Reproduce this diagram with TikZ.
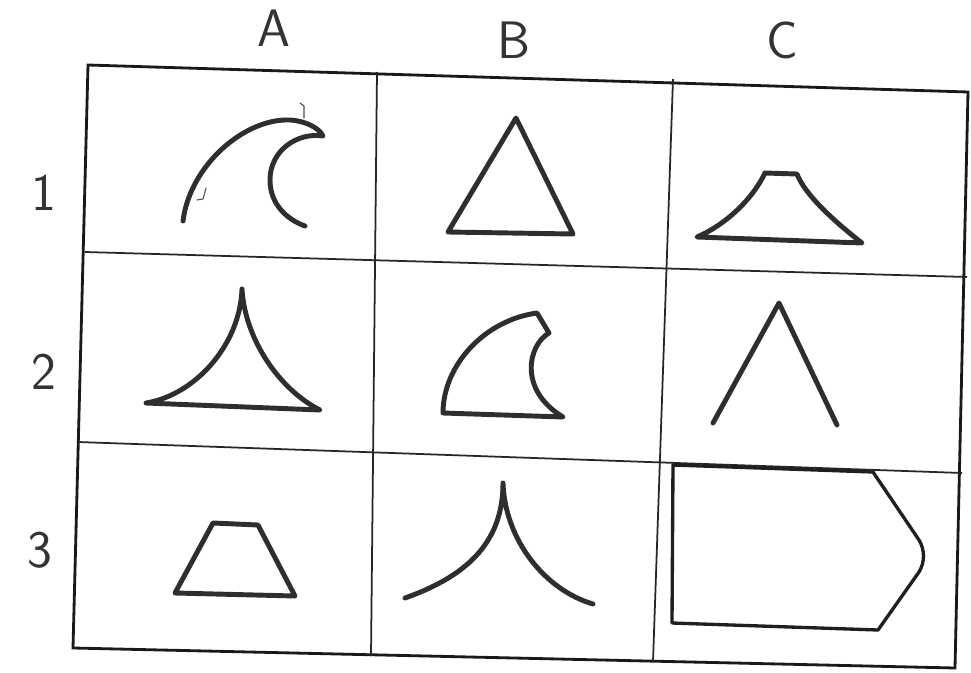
\documentclass[tikz,border=0pt]{standalone}
\begin{document}
\begin{tikzpicture}[x=0.02cm,y=-0.02cm,
  frame/.style={line width=1.6pt,black!90},
  divider/.style={line width=1.0pt,black!85},
  figline/.style={line width=2.8pt,black!82,line cap=round,line join=round},
  thinfig/.style={line width=1.9pt,black!88,line cap=round,line join=round},
  speck/.style={line width=0.6pt,black!70,line cap=round},
  lbl/.style={font=\sffamily\fontsize{30}{32}\selectfont,text=black!80,inner sep=0pt}]
\useasboundingbox (0,0) rectangle (971,673);
\fill[white] (0,0) rectangle (971,673);
% outer frame
\coordinate (tl) at (88,65);
\coordinate (tr) at (968,92);
\coordinate (br) at (955,668);
\coordinate (bl) at (73,648);
\draw[frame] (tl) -- (tr) -- (br) -- (bl) -- cycle;
% dividers
\coordinate (v1t) at (377,72);  \coordinate (v1b) at (371,656);
\coordinate (v2t) at (673,79);  \coordinate (v2b) at (653,662);
\coordinate (h1l) at (85,252);  \coordinate (h1r) at (967,277);
\coordinate (h2l) at (78,442);  \coordinate (h2r) at (962,473);
\draw[divider] (v1t) -- (v1b);
\draw[divider] (v2t) -- (v2b);
\draw[divider] (h1l) -- (h1r);
\draw[divider] (h2l) -- (h2r);
% column labels
\node[lbl] (colA) at (274,28) {A};
\node[lbl] (colB) at (514,40) {B};
\node[lbl] (colC) at (782,40) {C};
% row labels
\node[lbl] (row1) at (44,193) {1};
\node[lbl] (row2) at (44,372) {2};
\node[lbl] (row3) at (40,550) {3};
% A1 wave
\draw[figline] (183,221) .. controls (190,165) and (245,118) .. (290,120)
  .. controls (306,121) and (319,128) .. (323,136)
  .. controls (298,132) and (270,150) .. (270,180)
  .. controls (270,205) and (288,220) .. (305,226);
\draw[speck] (300,103) -- (304,106) -- (304,118);
\draw[speck] (206,188) -- (203,199) -- (197,200);
% B1 triangle
\draw[figline] (516,118) -- (573,234) -- (448,232) -- cycle;
% C1 volcano
\draw[figline] (765,173) -- (797,174)
  .. controls (805,195) and (835,222) .. (862,243)
  -- (697,237)
  .. controls (725,225) and (752,200) .. (765,173);
% A2 cusp triangle
\draw[figline] (242,289) .. controls (240,345) and (195,395) .. (146,403)
  -- (320,410)
  .. controls (280,390) and (245,340) .. (242,289);
% B2 fin
\draw[figline] (443,413) .. controls (443,365) and (485,320) .. (537,313)
  -- (549,333)
  .. controls (528,345) and (518,390) .. (563,417)
  -- cycle;
% C2 caret
\draw[figline] (713,423) -- (779,303) -- (837,425);
% A3 trapezoid
\draw[figline] (213,523) -- (258,525) -- (295,596) -- (175,593) -- cycle;
% B3 cusp
\draw[figline] (405,598) .. controls (470,575) and (503,540) .. (503,483)
  .. controls (505,540) and (545,590) .. (593,604);
% C3 box
\draw[thinfig] (673,465) -- (873,472) -- (919,540)
  .. controls (925,550) and (925,562) .. (919,572)
  -- (878,630) -- (672,623) -- cycle;
\end{tikzpicture}
\end{document}
